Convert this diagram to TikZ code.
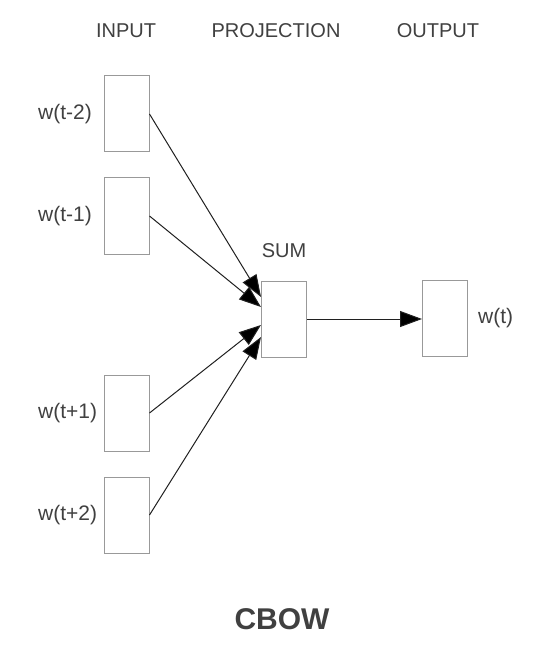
\documentclass[tikz,border=0pt]{standalone}
\usepackage{fontspec}
\setmainfont{Liberation Sans}
\usetikzlibrary{arrows.meta, positioning}
\definecolor{boxgray}{HTML}{999999}
\definecolor{textgray}{HTML}{404040}
\definecolor{linegray}{HTML}{202020}

\begin{document}
\begin{tikzpicture}[x=1pt, y=-1pt, >={Triangle[length=22pt, width=16pt, fill=black]},
		unit/.style={draw=boxgray, line width=1pt, minimum width=45pt, minimum height=76pt, inner sep=0pt},
		lbl/.style={text=textgray, inner sep=0pt, font=\fontsize{20}{24}\selectfont},
		word/.style={lbl, anchor=west, font=\fontsize{21}{25}\selectfont},
		link/.style={->, draw=linegray, line width=1pt}]

		\useasboundingbox (0, 0) rectangle (538, 660);

		% Row 0: Headers
		\node[lbl] (hin) at (126, 31) {INPUT};
		\node[lbl] (hproj) at (276, 31) {PROJECTION};
		\node[lbl] (hout) at (438, 31) {OUTPUT};

		% Column 1: Context words
		\node[unit] (in1) at (126.5, 114) {};
		\node[unit] (in2) at (126.5, 216) {};
		\node[unit] (in3) at (126.5, 413) {};
		\node[unit] (in4) at (126.5, 515) {};

		\coordinate (lcol) at (38, 0);
		\node[word] (w1) at (lcol |- in1.west) {w(t-2)};
		\node[word] (w2) at (lcol |- in2.west) {w(t-1)};
		\node[word] (w3) at (lcol |- in3.west) {w(t+1)};
		\node[word] (w4) at (lcol |- in4.west) {w(t+2)};

		% Column 2: Projection
		\node[unit] (sum) at (284, 319) {};
		\node[lbl, above=23pt of sum] (sumlbl) {SUM};

		% Column 3: Output
		\node[unit] (out) at (445, 318) {};
		\node[word, right=10pt of out] (wout) {w(t)};

		% --- Connections ---
		\draw[link] (in1.east) -- ([yshift=22pt] sum.west);
		\draw[link] (in2.east) -- ([yshift=12pt] sum.west);
		\draw[link] (in3.east) -- ([yshift=-6pt] sum.west);
		\draw[link] (in4.east) -- ([yshift=-18pt] sum.west);
		\draw[link] (sum.east) -- (sum.east -| out.west);

		% Title
		\node[lbl, font=\bfseries\fontsize{30}{36}\selectfont] (title) at (282, 619) {CBOW};

	\end{tikzpicture}
\end{document}
